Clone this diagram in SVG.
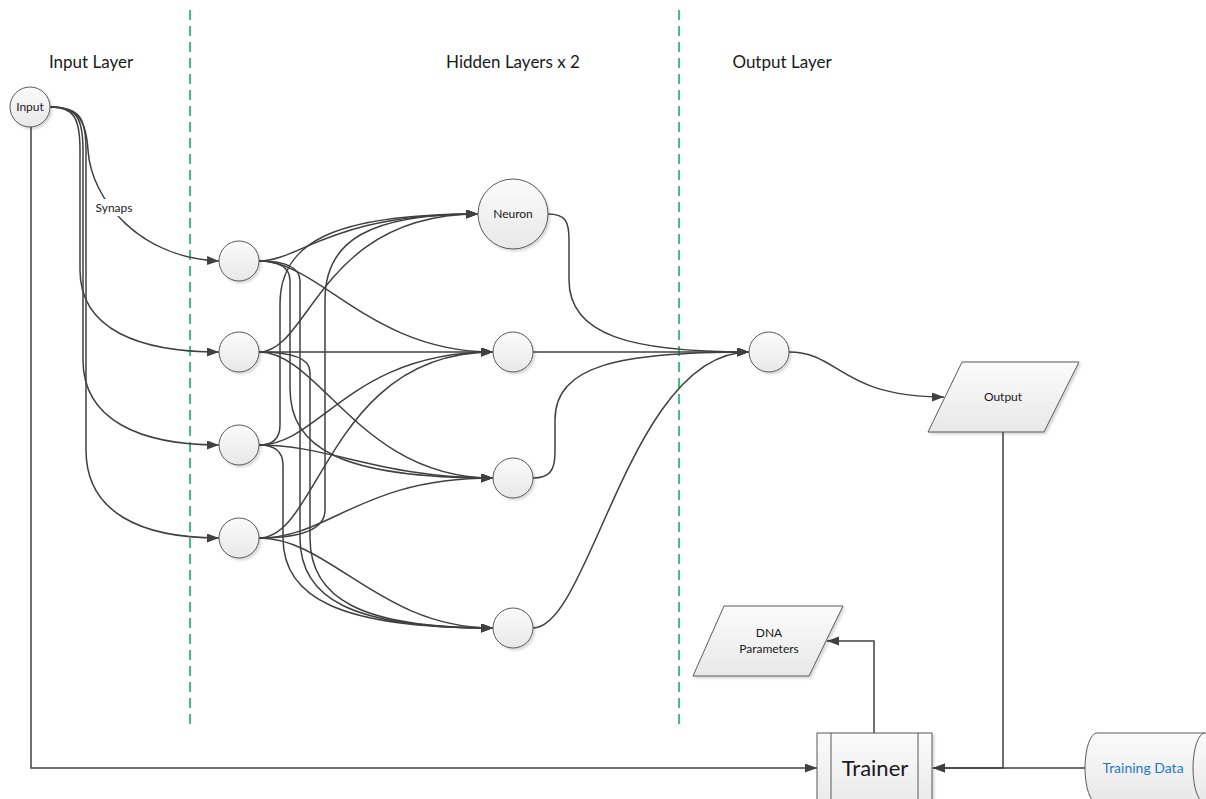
<svg xmlns="http://www.w3.org/2000/svg" width="1206" height="799" viewBox="0 0 1206 799">
  <defs>
    <linearGradient id="shapeFill" x1="0" y1="0" x2="0" y2="1">
      <stop offset="0" stop-color="#fbfbfb"/>
      <stop offset="1" stop-color="#e8e8e8"/>
    </linearGradient>
    <filter id="shadow" x="-20%" y="-20%" width="150%" height="150%">
      <feDropShadow dx="2" dy="2" stdDeviation="1.2" flood-color="#000" flood-opacity="0.15"/>
    </filter>
    <marker id="arrow" markerUnits="userSpaceOnUse" markerWidth="13" markerHeight="10" refX="12" refY="4.5" orient="auto">
      <path d="M0,0 L12,4.5 L0,9 z" fill="#404040"/>
    </marker>
    <style>
      .node { fill: url(#shapeFill); stroke: #595959; stroke-width: 1; filter: url(#shadow); }
      .wire { fill: none; stroke: #404040; stroke-width: 1.5; }
      .arr { marker-end: url(#arrow); }
      .divider { stroke: #00b050; stroke-width: 1.5; stroke-dasharray: 10 6; fill: none; }
      .title { font-family: Lato, "Liberation Sans", sans-serif; font-size: 17px; fill: #1a1a1a; text-anchor: middle; }
      .label { font-family: Lato, "Liberation Sans", sans-serif; font-size: 12px; fill: #1a1a1a; text-anchor: middle; }
    </style>
  </defs>

  <rect x="0" y="0" width="1206" height="799" fill="#ffffff"/>

  <!-- layer dividers -->
  <g id="dividers">
    <line class="divider" x1="190" y1="10" x2="190" y2="728"/>
    <line class="divider" x1="679" y1="10" x2="679" y2="730"/>
  </g>

  <!-- section titles -->
  <g id="titles">
    <text class="title" x="91" y="68">Input Layer</text>
    <text class="title" x="513" y="68">Hidden Layers x 2</text>
    <text class="title" x="782" y="68">Output Layer</text>
  </g>

  <!-- connectors -->
  <g id="connectors">
    <!-- input to first layer -->
    <path class="wire arr" d="M50,107 C78,107 86,120 88,150 C91,200 140,258 219,261"/>
    <path class="wire arr" d="M50,107 C74,107 80,118 80,150 L80,270 C80,330 140,352 219,352"/>
    <path class="wire arr" d="M50,107 C77,107 83,118 83,150 L83,360 C83,420 140,445 219,445"/>
    <path class="wire arr" d="M50,107 C80,107 86,118 86,150 L86,450 C86,512 140,538 219,538"/>

    <!-- first layer to second layer -->
    <path class="wire arr" d="M259,261 C300,261 330,214 478,214"/>
    <path class="wire arr" d="M259,261 C320,261 370,352 493,352"/>
    <path class="wire arr" d="M259,261 Q290,261 290,281 L290,388 C290,448 340,478 493,478"/>
    <path class="wire arr" d="M259,261 Q300,261 300,281 L300,538 C300,598 350,628 493,628"/>

    <path class="wire arr" d="M259,352 C310,352 320,214 478,214"/>
    <path class="wire arr" d="M259,352 L493,352"/>
    <path class="wire arr" d="M259,352 C320,352 360,478 493,478"/>
    <path class="wire arr" d="M259,352 Q310,352 310,372 L310,538 C310,598 360,628 493,628"/>

    <path class="wire arr" d="M259,445 Q280,445 280,425 L280,304 C280,244 330,214 478,214"/>
    <path class="wire arr" d="M259,445 C320,445 350,352 493,352"/>
    <path class="wire arr" d="M259,445 C330,445 380,478 493,478"/>
    <path class="wire arr" d="M259,445 Q283,445 283,465 L283,538 C283,598 340,628 493,628"/>

    <path class="wire arr" d="M259,538 Q325,538 325,510 L325,300 C325,240 370,214 478,214"/>
    <path class="wire arr" d="M259,538 C320,538 330,352 493,352"/>
    <path class="wire arr" d="M259,538 C330,538 360,478 493,478"/>
    <path class="wire arr" d="M259,538 C330,538 380,628 493,628"/>

    <!-- second layer to output neuron -->
    <path class="wire arr" d="M548,214 C566,214 569,222 569,240 L569,280 C569,335 630,352 749,352"/>
    <path class="wire arr" d="M533,352 L749,352"/>
    <path class="wire arr" d="M533,478 C550,478 555,470 555,452 L555,420 C555,365 620,352 749,352"/>
    <path class="wire arr" d="M533,628 C590,628 630,352 749,352"/>

    <!-- output neuron to output data -->
    <path class="wire arr" d="M789,352 C840,352 840,397 944,397"/>

    <!-- training loop -->
    <path class="wire arr" d="M31,127 L31,768 L817,768"/>
    <path class="wire arr" d="M1003,432 L1003,768 L933,768"/>
    <path class="wire arr" d="M1085,768 L933,768"/>
    <path class="wire arr" d="M874,733 L874,641 L827,641"/>

    <!-- synapse label -->
    <rect x="93" y="199" width="42" height="17" fill="#ffffff"/>
    <text class="label" x="114" y="212">Synaps</text>
  </g>

  <!-- input layer -->
  <g id="input">
    <circle class="node" cx="30" cy="107" r="20"/>
    <text class="label" x="30" y="111" font-size="11">Input</text>
  </g>

  <!-- first hidden layer -->
  <g id="h1-1"><circle class="node" cx="239" cy="261" r="20"/></g>
  <g id="h1-2"><circle class="node" cx="239" cy="352" r="20"/></g>
  <g id="h1-3"><circle class="node" cx="239" cy="445" r="20"/></g>
  <g id="h1-4"><circle class="node" cx="239" cy="538" r="20"/></g>

  <!-- second hidden layer -->
  <g id="neuron">
    <circle class="node" cx="513" cy="214" r="35"/>
    <text class="label" x="513" y="218">Neuron</text>
  </g>
  <g id="h2-2"><circle class="node" cx="513" cy="352" r="20"/></g>
  <g id="h2-3"><circle class="node" cx="513" cy="478" r="20"/></g>
  <g id="h2-4"><circle class="node" cx="513" cy="628" r="20"/></g>

  <!-- output layer -->
  <g id="out-neuron"><circle class="node" cx="769" cy="352" r="20"/></g>

  <g id="output">
    <polygon class="node" points="962,362 1079,362 1044,432 928,432"/>
    <text class="label" x="1003" y="401">Output</text>
  </g>

  <g id="dna">
    <polygon class="node" points="724,606 843,606 809,676 693,676"/>
    <text class="label" x="769" y="637">DNA</text>
    <text class="label" x="769" y="653">Parameters</text>
  </g>

  <g id="trainer">
    <rect class="node" x="817" y="733" width="115" height="80"/>
    <line x1="831" y1="733" x2="831" y2="813" stroke="#595959" stroke-width="1"/>
    <line x1="918" y1="733" x2="918" y2="813" stroke="#595959" stroke-width="1"/>
    <text x="875" y="776" font-family="Lato, 'Liberation Sans', sans-serif" font-size="22" fill="#1a1a1a" text-anchor="middle">Trainer</text>
  </g>

  <g id="training-data">
    <path class="node" d="M1097,733 L1205,733 L1205,803 L1097,803 A12,35 0 0 1 1097,733 Z"/>
    <ellipse cx="1205" cy="768" rx="12" ry="35" fill="url(#shapeFill)" stroke="#595959" stroke-width="1"/>
    <text x="1143" y="773" font-family="Lato, 'Liberation Sans', sans-serif" font-size="14" fill="#1f78c8" text-anchor="middle">Training Data</text>
  </g>
</svg>
